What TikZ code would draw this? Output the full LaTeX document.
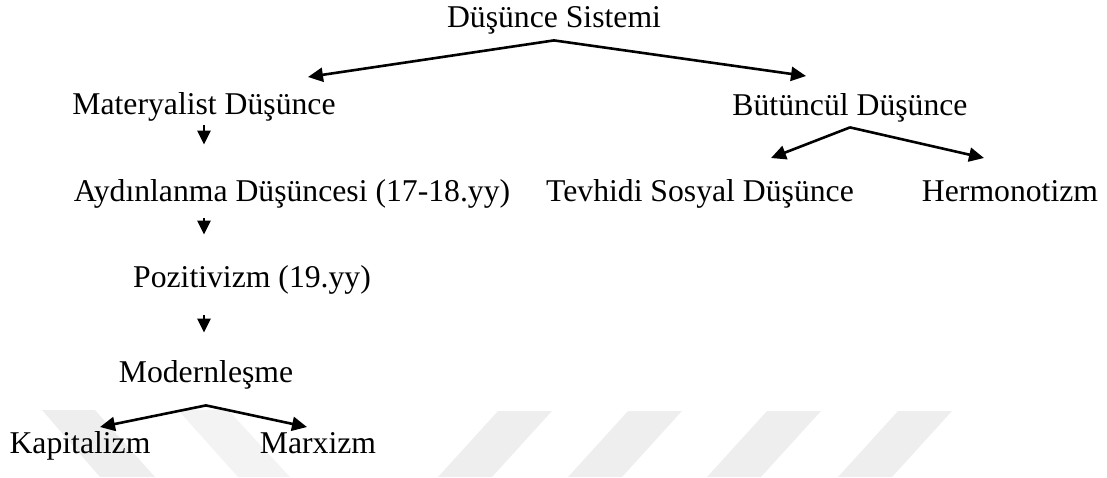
\documentclass[tikz,border=0pt]{standalone}
\usepackage{fontspec}
\setmainfont{Liberation Serif}
\usetikzlibrary{arrows.meta,positioning,calc}
\definecolor{MarkGray}{RGB}{238,238,238}

\tikzset{
  term/.style={inner sep=0pt, anchor=base, text height=11pt, text depth=3.5pt,
               font=\fontsize{15.85}{19}\selectfont},
  branch/.style={-{Triangle[length=7.5pt,width=7pt]}, line width=1.3pt},
  drop/.style={-{Triangle[length=7pt,width=6.5pt]}, line width=1.3pt},
  mark/.style={fill=MarkGray, draw=none}
}

\begin{document}
\begin{tikzpicture}[x=0.5pt,y=-0.5pt]
\useasboundingbox (0,0) rectangle (1107,477);

% faint watermark stripes
\fill[MarkGray] (42,410) -- (95,410) -- (155,477) -- (100,477) -- cycle;
\fill[MarkGray!70!white] (178,410) -- (228,410) -- (290,477) -- (238,477) -- cycle;
\foreach \s in {498,628,767,898}
  \fill[MarkGray] (\s,411) -- ({\s+54},411) -- ({\s-6},477) -- ({\s-60},477) -- cycle;

% terms
\node[term] (sis) at (554,27)  {Düşünce Sistemi};
\node[term] (mat) at (204,114) {Materyalist Düşünce};
\node[term] (but) at (850,115) {Bütüncül Düşünce};
\node[term] (ayd) at (292,201) {Aydınlanma Düşüncesi (17-18.yy)};
\node[term] (tev) at (700,201) {Tevhidi Sosyal Düşünce};
\node[term] (her) at (1010,201) {Hermonotizm};
\node[term] (poz) at (252,287) {Pozitivizm (19.yy)};
\node[term] (mod) at (206,382) {Modernleşme};
\node[term] (kap) at (80,453)  {Kapitalizm};
\node[term] (mar) at (318,453) {Marxizm};

% arrow tips of the branches
\coordinate (matTip) at (308,77);
\coordinate (butTip) at (806,76);
\coordinate (tevTip) at (771,158);
\coordinate (herTip) at (984,158);
\coordinate (kapTip) at (100,427);
\coordinate (marTip) at (307,427);

% branches
\draw[branch] ([yshift=-3pt]sis.south) -- (matTip);
\draw[branch] ([yshift=-2.5pt]but.south) -- (tevTip);
\draw[branch] ([yshift=-2.5pt]but.south) -- (herTip);
\draw[branch] ([yshift=-3pt]sis.south) -- (butTip);
\draw[branch] ([yshift=-8pt]mod.south) -- (kapTip);
\draw[branch] ([yshift=-8pt]mod.south) -- (marTip);

% chain downwards
\draw[drop, shorten <=2pt, shorten >=17pt] (mat.south) -- (mat.south |- ayd.north);
\draw[drop, shorten <=5pt, shorten >=15pt] (mat.south |- ayd.south) -- (mat.south |- poz.north);
\draw[drop, shorten <=10.5pt, shorten >=13.5pt] (mat.south |- poz.south) -- (mat.south |- mod.north);
\end{tikzpicture}
\end{document}
